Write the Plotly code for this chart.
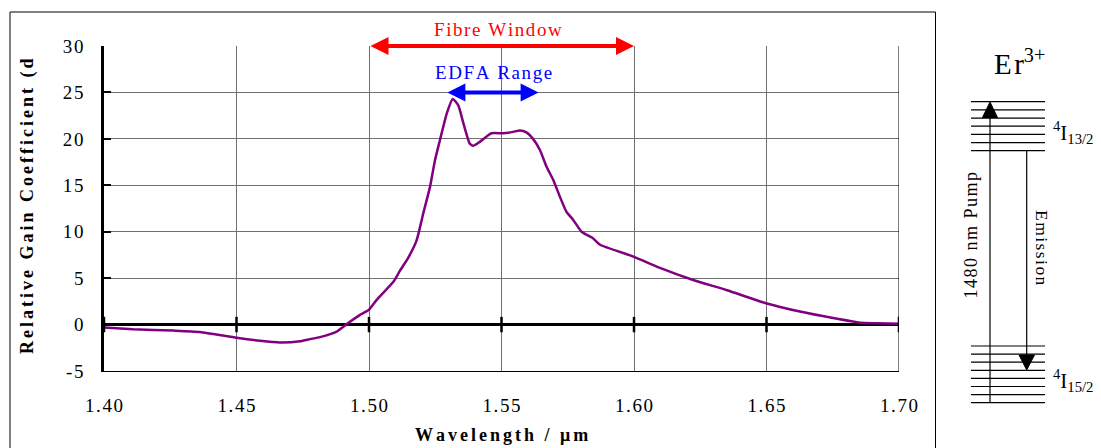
import plotly.graph_objects as go

# ---------------- data ----------------
wavelength = [1.400, 1.411, 1.4262, 1.4362, 1.450, 1.4589, 1.4664, 1.474,
              1.4777, 1.4815, 1.4878, 1.4916, 1.4966, 1.500, 1.5029, 1.5092, 1.5117, 1.515,
              1.518, 1.5205, 1.523, 1.5249, 1.5268, 1.5293, 1.5316, 1.5337, 1.5356, 1.538,
              1.5393, 1.5419, 1.5462, 1.5506, 1.5544, 1.5569, 1.5594, 1.5619, 1.5645, 1.567,
              1.5695, 1.572, 1.5745, 1.577, 1.5802, 1.5845, 1.5872, 1.600, 1.6098, 1.6223,
              1.6351, 1.6498, 1.6626, 1.6751, 1.6853, 1.6917, 1.700]
gain = [-0.32, -0.5, -0.65, -0.8, -1.42, -1.75, -1.93, -1.8,
        -1.57, -1.35, -0.75, 0.05, 1.04, 1.6, 2.66, 4.6, 5.8, 7.3,
        9.1, 12.0, 14.8, 17.7, 19.9, 22.7, 24.3, 23.6, 21.7, 19.5,
        19.25, 19.7, 20.6, 20.6, 20.75, 20.9, 20.7, 20.0, 18.8, 17.0,
        15.6, 13.8, 12.15, 11.3, 10.0, 9.3, 8.6, 7.3, 6.1, 4.8,
        3.7, 2.3, 1.4, 0.7, 0.2, 0.15, 0.1]

x_ticks = [1.40, 1.45, 1.50, 1.55, 1.60, 1.65, 1.70]
x_tick_labels = ["1.40", "1.45", "1.50", "1.55", "1.60", "1.65", "1.70"]
y_ticks = [-5, 0, 5, 10, 15, 20, 25, 30]
y_tick_labels = ["-5", "0", "5", "10", "15", "20", "25", "30"]

fibre_window = [1.50, 1.60]
edfa_range = [1.529, 1.564]

# energy-level diagram (pixel rows of the level lines)
upper_levels = [101.7, 109.9, 118.1, 126.2, 134.4, 142.6, 150.7]
lower_levels = [346.0, 354.1, 362.2, 370.3, 378.4, 386.5, 394.6, 402.7]

# ---------------- helpers ----------------
W, H = 1101, 448
L, R, T, B = 104, 899, 46, 371
HS = "\u200a"


def sp(s, n=1):
    return (HS * n).join(list(s))


def px(x):
    return (x - L) / (R - L)


def py(y):
    return (B - y) / (B - T)


FONT = "Liberation Serif"

fig = go.Figure()

fig.add_trace(go.Scatter(x=wavelength, y=gain, mode="lines",
                         line=dict(color="#800080", width=2.5, shape="spline", smoothing=0.5),
                         hoverinfo="skip", showlegend=False))

# tick marks on the zero line
fig.add_trace(go.Scatter(x=x_ticks, y=[0] * len(x_ticks), mode="markers",
                         marker=dict(symbol="line-ns", size=11,
                                     line=dict(color="black", width=2.5)),
                         hoverinfo="skip", showlegend=False))

shapes = []
# right border of plot
shapes.append(dict(type="line", xref="x", yref="y", x0=1.70, x1=1.70, y0=-5, y1=30,
                   line=dict(color="black", width=1)))
# outer frame
shapes.append(dict(type="rect", xref="paper", yref="paper",
                   x0=px(10), x1=px(935.5), y0=py(12), y1=py(470),
                   line=dict(color="black", width=1)))
# energy levels
for yl in upper_levels + lower_levels:
    shapes.append(dict(type="line", xref="paper", yref="paper",
                       x0=px(971), x1=px(1045), y0=py(yl), y1=py(yl),
                       line=dict(color="black", width=1.2)))
# pump line + arrowhead
shapes.append(dict(type="line", xref="paper", yref="paper",
                   x0=px(990), x1=px(990), y0=py(lower_levels[-1]), y1=py(115),
                   line=dict(color="black", width=1.2)))
shapes.append(dict(type="path", xref="paper", yref="paper",
                   path=f"M {px(982.5)},{py(117.5)} L {px(997.5)},{py(117.5)} L {px(990)},{py(102)} Z",
                   fillcolor="black", line=dict(color="black", width=1)))
# emission line + arrowhead
shapes.append(dict(type="line", xref="paper", yref="paper",
                   x0=px(1026.7), x1=px(1026.7), y0=py(upper_levels[-1]), y1=py(357),
                   line=dict(color="black", width=1.2)))
shapes.append(dict(type="path", xref="paper", yref="paper",
                   path=f"M {px(1019)},{py(355)} L {px(1034.5)},{py(355)} L {px(1026.7)},{py(370)} Z",
                   fillcolor="black", line=dict(color="black", width=1)))

annotations = []
# double arrows
for rng, col, yv in [(fibre_window, "red", 30), (edfa_range, "blue", 25)]:
    annotations.append(dict(x=rng[1], y=yv, ax=rng[0], ay=yv, xref="x", yref="y",
                            axref="x", ayref="y", text="", showarrow=True,
                            arrowhead=2, startarrowhead=2, arrowside="end+start",
                            arrowwidth=4, arrowsize=0.9, startarrowsize=0.9,
                            arrowcolor=col, standoff=0, startstandoff=0))


def label(xp, yp, text, size, color="black", angle=0, xanchor="center"):
    annotations.append(dict(x=px(xp), y=py(yp), xref="paper", yref="paper",
                            xanchor=xanchor, yanchor="middle", text=text,
                            textangle=angle, showarrow=False,
                            font=dict(family=FONT, size=size, color=color)))


label(497.5, 29.5, sp("Fibre Window"), 19, "red")
label(493, 72.5, sp("EDFA Range"), 19, "blue")
label(27, 206, "<b>" + sp("Relative Gain Coefficient (d", 2) + "</b>", 18, angle=-90)
label(501, 435, "<b>" + sp("Wavelength / μm", 2) + "</b>", 18)
label(1019, 62, "E" + HS + "r<sup>3+</sup>", 29)
label(1051, 132, "<sup>4</sup>I<sub>13/2</sub>", 21, xanchor="left")
label(1051, 381, "<sup>4</sup>I<sub>15/2</sub>", 21, xanchor="left")
label(970, 235.5, sp("1480 nm Pump"), 18, angle=-90)
label(1042, 248, sp("Emission"), 17.5, angle=90)

fig.update_layout(
    width=W, height=H,
    margin=dict(l=L, r=W - R, t=T, b=H - B),
    paper_bgcolor="white", plot_bgcolor="white",
    showlegend=False,
    font=dict(family=FONT, size=19, color="black"),
    shapes=shapes, annotations=annotations,
    xaxis=dict(range=[1.40, 1.70], tickmode="array", tickvals=x_ticks,
               ticktext=[sp(t) for t in x_tick_labels],
               showgrid=True, gridcolor="#707070", gridwidth=1,
               zeroline=False, showline=True, linecolor="black", linewidth=1,
               ticks="", ticklabelstandoff=17,
               tickfont=dict(family=FONT, size=19, color="black")),
    yaxis=dict(range=[-5, 30], tickmode="array", tickvals=y_ticks,
               ticktext=[sp(t) for t in y_tick_labels],
               showgrid=True, gridcolor="#707070", gridwidth=1,
               zeroline=True, zerolinecolor="black", zerolinewidth=3,
               showline=True, linecolor="black", linewidth=2.5,
               ticks="inside", ticklen=7, tickwidth=2, tickcolor="black",
               ticklabelstandoff=14,
               tickfont=dict(family=FONT, size=19, color="black")),
)

fig.write_html("out.html")
